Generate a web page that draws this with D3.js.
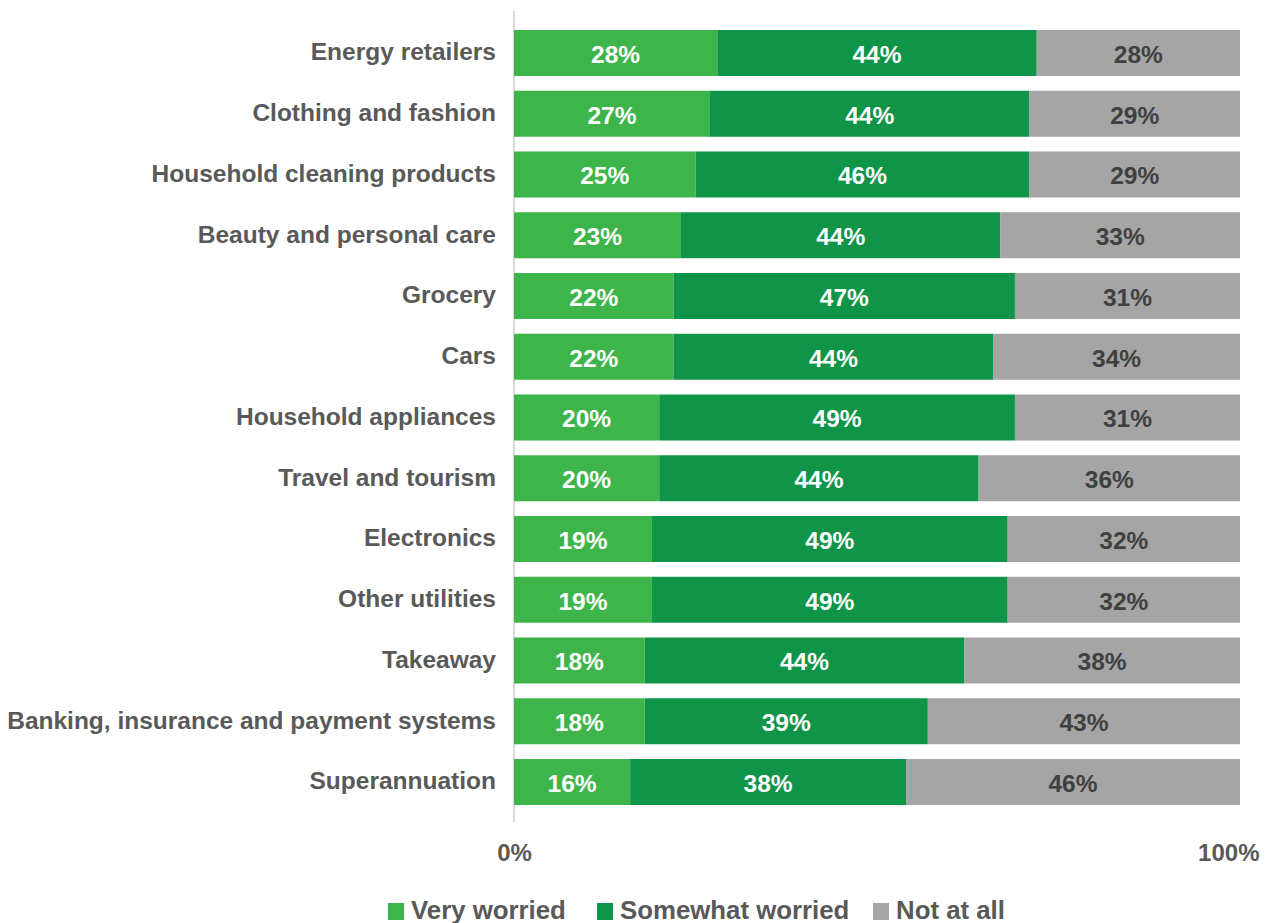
<!DOCTYPE html>
<html>
<head>
<meta charset="utf-8">
<script src="https://cdn.jsdelivr.net/npm/d3@7/dist/d3.min.js"></script>
<style>
  html, body { margin: 0; padding: 0; background: #fff; }
  svg { display: block; font-family: "Liberation Sans", Arial, sans-serif; font-weight: bold; }
</style>
</head>
<body>
<svg id="chart" width="1271" height="923"></svg>
<script>
// Sectors, top to bottom
const categories = [
  "Energy retailers",
  "Clothing and fashion",
  "Household cleaning products",
  "Beauty and personal care",
  "Grocery",
  "Cars",
  "Household appliances",
  "Travel and tourism",
  "Electronics",
  "Other utilities",
  "Takeaway",
  "Banking, insurance and payment systems",
  "Superannuation"
];

// Share of respondents (%) per level of worry
const veryWorried     = [28, 27, 25, 23, 22, 22, 20, 20, 19, 19, 18, 18, 16];
const somewhatWorried = [44, 44, 46, 44, 47, 44, 49, 44, 49, 49, 44, 39, 38];
const notAtAll        = [28, 29, 29, 33, 31, 34, 31, 36, 32, 32, 38, 43, 46];

const seriesNames = ["Very worried", "Somewhat worried", "Not at all"];
const tickValues = [0, 100];
const tickLabels = ["0%", "100%"];

const colors = ["#3db54a", "#109447", "#a5a5a5"];
const labelColors = ["#ffffff", "#ffffff", "#404040"];
const textGrey = "#595959";

const svg = d3.select("#chart");

const rows = categories.map((c, i) => ({
  category: c,
  "Very worried": veryWorried[i],
  "Somewhat worried": somewhatWorried[i],
  "Not at all": notAtAll[i]
}));

const stacked = d3.stack().keys(seriesNames)(rows);

const x = d3.scaleLinear().domain([0, 100]).range([514, 1240]);
const y = d3.scaleBand().domain(categories).range([30, 805]).paddingInner(0.243).paddingOuter(0);

// Vertical baseline
svg.append("line")
  .attr("x1", x(0)).attr("x2", x(0))
  .attr("y1", 11).attr("y2", 822)
  .attr("stroke", "#d9d9d9").attr("stroke-width", 2);

// Stacked segments
const layers = svg.append("g").selectAll("g")
  .data(stacked)
  .join("g")
  .attr("fill", (d, i) => colors[i]);

layers.selectAll("rect")
  .data(d => d)
  .join("rect")
  .attr("x", d => x(d[0]))
  .attr("y", d => y(d.data.category))
  .attr("width", d => x(d[1]) - x(d[0]))
  .attr("height", y.bandwidth());

// Value labels inside segments
const valueLayers = svg.append("g").selectAll("g")
  .data(stacked)
  .join("g")
  .attr("fill", (d, i) => labelColors[i]);

valueLayers.selectAll("text")
  .data(d => d)
  .join("text")
  .attr("x", d => (x(d[0]) + x(d[1])) / 2)
  .attr("y", d => y(d.data.category) + y.bandwidth() / 2 + 1)
  .attr("dy", "0.36em")
  .attr("text-anchor", "middle")
  .attr("font-size", 24.5)
  .text(d => Math.round(d[1] - d[0]) + "%");

// Category axis
const yAxis = svg.append("g")
  .attr("transform", `translate(${x(0) - 18},0)`)
  .call(d3.axisLeft(y).tickSize(0).tickPadding(0));
yAxis.select(".domain").remove();
yAxis.selectAll("text")
  .attr("fill", textGrey)
  .attr("font-size", 24.5)
  .attr("font-family", "Liberation Sans, Arial, sans-serif")
  .attr("font-weight", "bold")
  .attr("dy", "0.3em");

// Percentage axis
const xAxis = svg.append("g")
  .attr("transform", "translate(0,843)")
  .call(d3.axisBottom(x).tickValues(tickValues).tickSize(0).tickPadding(0)
    .tickFormat((d, i) => tickLabels[i]));
xAxis.select(".domain").remove();
xAxis.selectAll("text")
  .attr("fill", textGrey)
  .attr("font-size", 24)
  .attr("font-family", "Liberation Sans, Arial, sans-serif")
  .attr("font-weight", "bold")
  .attr("dy", "0.75em");
xAxis.selectAll(".tick").filter(d => d === 100).select("text")
  .attr("text-anchor", "end")
  .attr("x", 19);

// Legend
const legendX = [388, 597, 873];
const legend = svg.append("g").selectAll("g")
  .data(seriesNames)
  .join("g")
  .attr("transform", (d, i) => `translate(${legendX[i]},903)`);
legend.append("rect")
  .attr("width", 16).attr("height", 17)
  .attr("fill", (d, i) => colors[i]);
legend.append("text")
  .attr("x", 23).attr("y", 16)
  .attr("fill", textGrey)
  .attr("font-size", 25.8)
  .text(d => d);
</script>
</body>
</html>
